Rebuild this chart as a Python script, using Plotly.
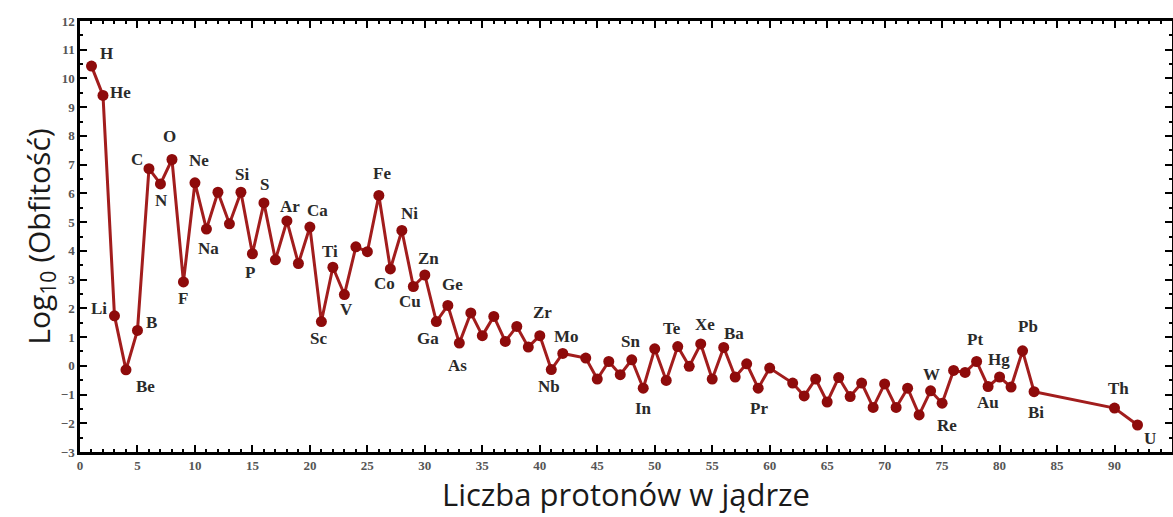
import plotly.graph_objects as go

# Atomic number (Z) of plotted elements
protons = [1, 2, 3, 4, 5, 6, 7, 8, 9, 10, 11, 12, 13, 14, 15, 16, 17, 18, 19, 20,
           21, 22, 23, 24, 25, 26, 27, 28, 29, 30, 31, 32, 33, 34, 35, 36, 37, 38, 39, 40,
           41, 42, 44, 45, 46, 47, 48, 49, 50, 51, 52, 53, 54, 55, 56, 57, 58, 59, 60,
           62, 63, 64, 65, 66, 67, 68, 69, 70, 71, 72, 73, 74, 75, 76, 77, 78, 79, 80,
           81, 82, 83, 90, 92]

symbols = ["H", "He", "Li", "Be", "B", "C", "N", "O", "F", "Ne", "Na", "Mg", "Al", "Si", "P", "S",
           "Cl", "Ar", "K", "Ca", "Sc", "Ti", "V", "Cr", "Mn", "Fe", "Co", "Ni", "Cu", "Zn", "Ga",
           "Ge", "As", "Se", "Br", "Kr", "Rb", "Sr", "Y", "Zr", "Nb", "Mo", "Ru", "Rh", "Pd", "Ag",
           "Cd", "In", "Sn", "Sb", "Te", "I", "Xe", "Cs", "Ba", "La", "Ce", "Pr", "Nd", "Sm", "Eu",
           "Gd", "Tb", "Dy", "Ho", "Er", "Tm", "Yb", "Lu", "Hf", "Ta", "W", "Re", "Os", "Ir", "Pt",
           "Au", "Hg", "Tl", "Pb", "Bi", "Th", "U"]

log_abundance = [10.43, 9.41, 1.74, -0.14, 1.23, 6.86, 6.33, 7.18, 2.92, 6.37, 4.76, 6.04, 4.94,
                 6.04, 3.90, 5.67, 3.69, 5.04, 3.56, 4.83, 1.54, 3.43, 2.48, 4.14, 3.97, 5.93,
                 3.37, 4.71, 2.76, 3.16, 1.54, 2.10, 0.79, 1.84, 1.05, 1.72, 0.85, 1.37, 0.65,
                 1.05, -0.13, 0.43, 0.27, -0.46, 0.15, -0.31, 0.21, -0.78, 0.59, -0.51, 0.67,
                 -0.02, 0.76, -0.46, 0.64, -0.39, 0.07, -0.78, -0.08, -0.60, -1.05, -0.46, -1.26,
                 -0.41, -1.07, -0.60, -1.45, -0.63, -1.45, -0.78, -1.71, -0.87, -1.30, -0.16,
                 -0.23, 0.15, -0.72, -0.39, -0.74, 0.52, -0.90, -1.47, -2.06]

# Which elements are labelled on the chart
labelled = ["H", "He", "Li", "Be", "B", "C", "N", "O", "F", "Ne", "Na", "Si", "P", "S", "Ar",
            "Ca", "Sc", "Ti", "V", "Fe", "Co", "Ni", "Cu", "Zn", "Ga", "Ge", "As", "Zr", "Nb",
            "Mo", "Sn", "In", "Te", "Xe", "Ba", "Pr", "W", "Re", "Pt", "Au", "Hg", "Pb", "Bi",
            "Th", "U"]

x_title = "Liczba protonów w jądrze"
y_title = "Log<sub>10</sub> (Obfitość)"

# label offsets in pixels (dx right, dy down) -- styling only
label_offsets = {
    "H": (15, -13), "He": (18, -3), "Li": (-15, -7), "Be": (20, 17), "B": (14, -8),
    "C": (-12, -9), "N": (1, 17), "O": (-2, -23), "F": (0, 17), "Ne": (4, -22),
    "Na": (2, 19), "Si": (1, -18), "P": (-2, 19), "S": (1, -18), "Ar": (3, -14),
    "Ca": (8, -17), "Sc": (-3, 17), "Ti": (-3, -16), "V": (2, 15), "Fe": (3, -22),
    "Co": (-6, 15), "Ni": (8, -17), "Cu": (-3, 15), "Zn": (4, -17), "Ga": (-8, 17),
    "Ge": (5, -21), "As": (-2, 22), "Zr": (3, -23), "Nb": (-2, 17), "Mo": (4, -17),
    "Sn": (-24, -7), "In": (0, 20), "Te": (-6, -18), "Xe": (4, -19), "Ba": (10, -14),
    "Pr": (1, 20), "W": (1, -16), "Re": (5, 22), "Pt": (-2, -22), "Au": (0, 16),
    "Hg": (-1, -18), "Pb": (5, -24), "Bi": (2, 21), "Th": (4, -20), "U": (12, 14),
}

fig = go.Figure()
fig.add_trace(go.Scatter(
    x=protons, y=log_abundance, mode="lines+markers",
    line=dict(color="#a21d1d", width=3),
    marker=dict(color="#8e0b0b", size=11),
    text=symbols, hoverinfo="text+x+y", showlegend=False,
))

annotations = []
for z, s, v in zip(protons, symbols, log_abundance):
    if s in labelled:
        dx, dy = label_offsets[s]
        annotations.append(dict(
            x=z, y=v, xref="x", yref="y", text=s, showarrow=False,
            xshift=dx, yshift=-dy,
            font=dict(family="Liberation Serif", size=17, color="#2a2a2a", weight="bold"),
        ))

axis_common = dict(
    showline=True, linecolor="black", linewidth=2.5, mirror="ticks",
    ticks="inside", ticklen=7, tickwidth=2, tickcolor="black",
    showgrid=False, zeroline=False, automargin=False,
    tickfont=dict(family="Liberation Serif", size=13, color="#555555", weight="bold"),
)

fig.update_layout(
    width=1173, height=517,
    margin=dict(l=80, r=1, t=21, b=65),
    paper_bgcolor="white", plot_bgcolor="white",
    annotations=annotations,
    xaxis=dict(
        range=[0, 95], dtick=5, tick0=0,
        minor=dict(dtick=1, ticks="inside", ticklen=3, tickwidth=1.5, tickcolor="black"),
        title=dict(text=x_title, standoff=6,
                   font=dict(family="Open Sans", size=31, color="#1a1a1a")),
        **axis_common,
    ),
    yaxis=dict(
        range=[-3, 12], dtick=1, tick0=0,
        minor=dict(dtick=0.5, ticks="inside", ticklen=3, tickwidth=1.5, tickcolor="black"),
        title=dict(text=y_title, standoff=2,
                   font=dict(family="Open Sans", size=30, color="#1a1a1a")),
        **axis_common,
    ),
)

fig.write_html("out.html", config={"displayModeBar": False},
               post_script="document.body.style.margin='0';")
